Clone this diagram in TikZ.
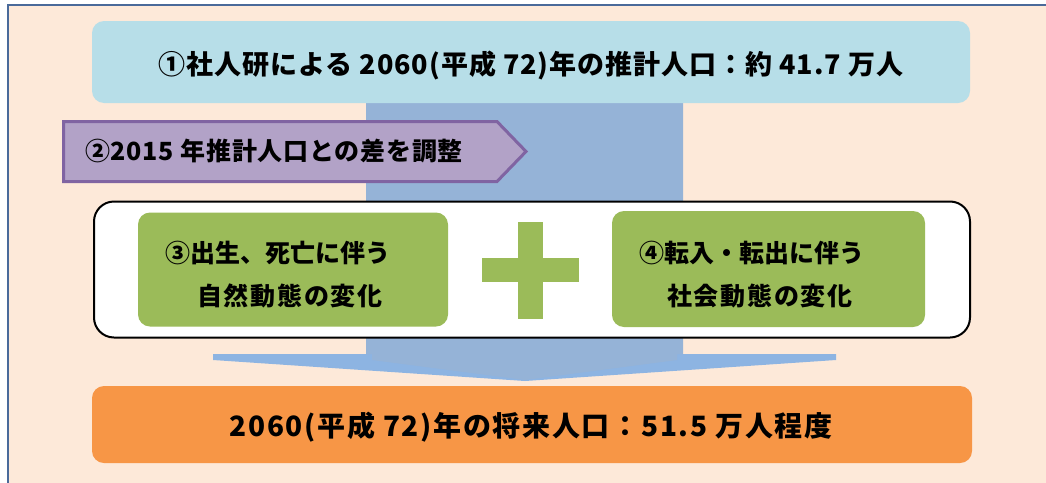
\documentclass[tikz,border=0pt]{standalone}
\usepackage{fontspec}
\setmainfont{Noto Sans CJK JP}
\definecolor{bgpeach}{HTML}{FDE9D9}
\definecolor{framecol}{HTML}{4A6A9A}
\definecolor{topcol}{HTML}{B7DEE8}
\definecolor{purfill}{HTML}{B2A2C7}
\definecolor{purline}{HTML}{8064A2}
\definecolor{shaftcol}{HTML}{95B3D7}
\definecolor{headcol}{HTML}{8DB4E2}
\definecolor{greencol}{HTML}{9BBB59}
\definecolor{orangecol}{HTML}{F79646}
\tikzset{
  bigbox/.style={fill=#1, draw=none, rounded corners=12pt, inner sep=0pt},
  bigtext/.style={font=\bfseries\fontsize{27}{30}\selectfont\addfontfeature{LetterSpace=3.5}, inner sep=0pt},
  midtext/.style={font=\bfseries\fontsize{25}{28}\selectfont, inner sep=0pt},
  greenbox/.style={fill=greencol, draw=none, rounded corners=12pt, inner sep=0pt},
}
\begin{document}
\begin{tikzpicture}[x=1pt,y=-1pt]
\useasboundingbox (0,0) rectangle (1046,482);
% background frame
\fill[bgpeach] (7.5,4.5) rectangle (1060,500);
\draw[framecol, line width=2pt] (7.5,500) -- (7.5,4.5) -- (1060,4.5);
% big arrow head and shaft
\fill[headcol] (213,354) -- (836,354) -- (836,360) -- (525,381) -- (213,360) -- cycle;
\fill[shaftcol] (366,90) -- (683,90) -- (683,354) -- (677,354) -- (677,360) -- (525,380)
  -- (372,360) -- (372,354) -- (366,354) -- cycle;
% top box
\node[bigbox=topcol, minimum width=878pt, minimum height=82pt] (top) at (531,62) {};
\node[bigtext] (toptext) at (531,65) {①社人研による 2060(平成 72)年の推計人口：約 41.7 万人};
% purple arrow
\draw[purline, fill=purfill, line width=3pt] (63.5,121.5) -- (497,121.5) -- (526,151.5) -- (497,181.5) -- (63.5,181.5) -- cycle;
\node[midtext, anchor=west, font=\bfseries\fontsize{25}{28}\selectfont\addfontfeature{LetterSpace=3}] (adj) at (85,151) {②2015 年推計人口との差を調整};
% white box
\node[draw=black, fill=white, line width=2pt, rounded corners=20pt, minimum width=876pt, minimum height=136pt, inner sep=0pt] (mid) at (532,269.5) {};
% green boxes
\node[greenbox, minimum width=310pt, minimum height=114pt] (nat) at (293,269.5) {};
\node[greenbox, minimum width=313pt, minimum height=116pt] (soc) at (768.5,269) {};
\node[midtext, anchor=west] (nat1) at (165,253) {③出生、死亡に伴う};
\node[midtext, anchor=west, font=\bfseries\fontsize{25}{28}\selectfont\addfontfeature{LetterSpace=7}] (nat2) at (197,296) {自然動態の変化};
\node[midtext, anchor=west] (soc1) at (639,253) {④転入・転出に伴う};
\node[midtext, anchor=west, font=\bfseries\fontsize{25}{28}\selectfont\addfontfeature{LetterSpace=7}] (soc2) at (667,296) {社会動態の変化};
% plus sign
\fill[greencol] (518,222) rectangle (543,319);
\fill[greencol] (482,258) rectangle (579,282);
% bottom box
\node[bigbox=orangecol, minimum width=880pt, minimum height=77pt] (bot) at (532,424.5) {};
\node[inner sep=0pt, font=\bfseries\fontsize{28}{31}\selectfont\addfontfeature{LetterSpace=6}] (bottext) at (531,427) {2060(平成 72)年の将来人口：51.5 万人程度};
\end{tikzpicture}
\end{document}
